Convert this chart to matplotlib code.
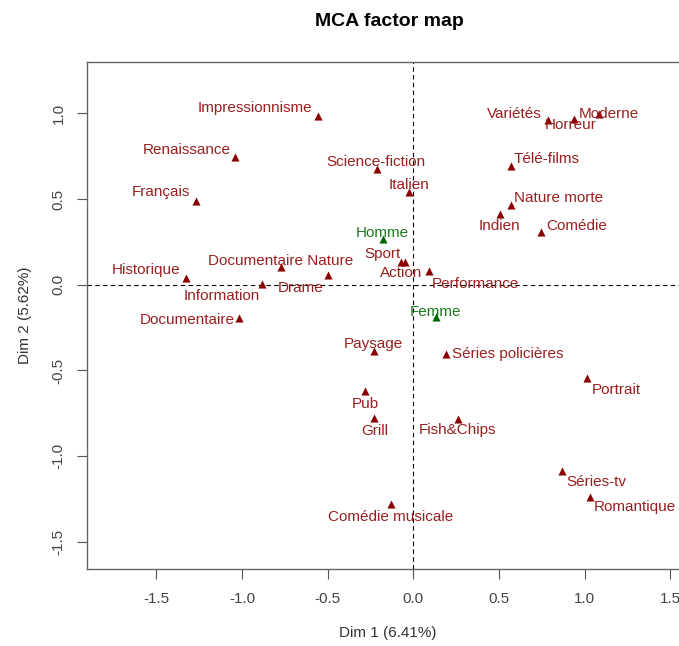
import matplotlib.pyplot as plt
import numpy as np

plt.rcParams['font.family'] = ['Liberation Sans', 'DejaVu Sans']

# category coordinates on the first two dimensions
categories = ['Impressionnisme', 'Renaissance', 'Français', 'Science-fiction', 'Italien',
              'Sport', 'Action', 'Performance', 'Variétés', 'Horreur', 'Moderne',
              'Télé-films', 'Nature morte', 'Indien', 'Comédie', 'Historique',
              'Documentaire Nature', 'Drame', 'Information', 'Documentaire', 'Paysage',
              'Pub', 'Grill', 'Comédie musicale', 'Séries policières', 'Portrait',
              'Fish&Chips', 'Séries-tv', 'Romantique']
dim1 = [-0.558, -1.039, -1.267, -0.210, -0.023,
        -0.074, -0.047, 0.090, 0.788, 0.940, 1.086,
        0.570, 0.570, 0.506, 0.745, -1.325,
        -0.774, -0.496, -0.881, -1.019, -0.231,
        -0.280, -0.228, -0.132, 0.189, 1.016,
        0.261, 0.870, 1.032]
dim2 = [0.985, 0.746, 0.490, 0.673, 0.539,
        0.132, 0.132, 0.080, 0.960, 0.964, 0.995,
        0.692, 0.466, 0.412, 0.306, 0.037,
        0.103, 0.057, 0.006, -0.192, -0.387,
        -0.620, -0.776, -1.281, -0.402, -0.544,
        -0.783, -1.088, -1.236]

# supplementary categories
sup_categories = ['Homme', 'Femme']
sup_dim1 = [-0.179, 0.131]
sup_dim2 = [0.266, -0.188]

x_ticks = [-1.5, -1.0, -0.5, 0.0, 0.5, 1.0, 1.5]
y_ticks = [-1.5, -1.0, -0.5, 0.0, 0.5, 1.0]

# label offsets in pixels (dx, dy), set by hand so labels don't collide
label_offsets = [(-63, 8), (-49, 7), (-35, 9), (-1, 7), (0, 7),
                 (-18, 8), (-4, -11), (47, -13), (-34, 6), (-4, -6), (9, 0),
                 (36, 7), (48, 7), (-1, -12), (36, 6), (-40, 8),
                 (0, 6), (-28, -13), (-41, -12), (-52, -2), (0, 7),
                 (0, -13), (0, -13), (0, -13), (62, 0), (29, -12),
                 (-1, -11), (34, -11), (45, -10)]
sup_offsets = [(0, 6), (0, 5)]

red = '#8B0000'
red_txt = '#9A1F1F'
green = '#006400'
green_txt = '#1F7A1F'

fig = plt.figure(figsize=(6.79, 6.46), dpi=100)
ax = fig.add_axes([86.7 / 679, 1 - 568.5 / 646, (689 - 86.7) / 679, (568.5 - 62) / 646])

ax.axhline(0, color='black', lw=0.8, ls=(0, (4, 3)), zorder=1)
ax.axvline(0, color='black', lw=0.8, ls=(0, (4, 3)), zorder=1)

ax.scatter(dim1, dim2, marker='^', s=34, color=red, linewidths=0, zorder=3)
ax.scatter(sup_dim1, sup_dim2, marker='^', s=34, color=green, linewidths=0, zorder=3)

for name, x, y, off in zip(categories, dim1, dim2, label_offsets):
    ax.annotate(name, (x, y), xytext=off, textcoords='offset pixels',
                ha='center', va='center', fontsize=11, color=red_txt, zorder=4)
for name, x, y, off in zip(sup_categories, sup_dim1, sup_dim2, sup_offsets):
    ax.annotate(name, (x, y), xytext=off, textcoords='offset pixels',
                ha='center', va='center', fontsize=11, color=green_txt, zorder=4)

ax.set_xlim(-1.907, 1.609)
ax.set_ylim(-1.655, 1.299)
ax.set_xticks(x_ticks)
ax.set_yticks(y_ticks)
ax.set_xticklabels(['%.1f' % t for t in x_ticks])
ax.set_yticklabels(['%.1f' % t for t in y_ticks], rotation=90, va='center')
ax.tick_params(direction='out', length=7, width=0.8, color='#555555',
               labelsize=11, labelcolor='#444444')
ax.tick_params(axis='x', pad=10)
ax.tick_params(axis='y', pad=8)
for sp in ax.spines.values():
    sp.set_color('#666666')
    sp.set_linewidth(1)

ax.set_xlabel('Dim 1 (6.41%)', fontsize=11, color='#333333', labelpad=14)
ax.set_ylabel('Dim 2 (5.62%)', fontsize=11, color='#333333', labelpad=14)
fig.text(389 / 679, 1 - 22 / 646, 'MCA factor map', ha='center', va='center',
         fontsize=14, fontweight='bold')

fig.savefig('out.png', dpi=100)
